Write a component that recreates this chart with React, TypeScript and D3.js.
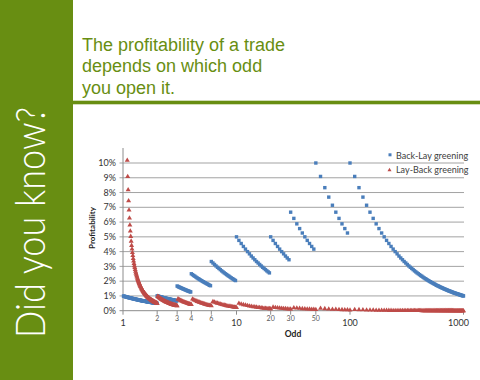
import React from "react";
import * as d3 from "d3";

// Betfair odds ladder (x values)
const odds = [
  1.01,1.02,1.03,1.04,1.05,1.06,1.07,1.08,1.09,1.1,
  1.11,1.12,1.13,1.14,1.15,1.16,1.17,1.18,1.19,1.2,
  1.21,1.22,1.23,1.24,1.25,1.26,1.27,1.28,1.29,1.3,
  1.31,1.32,1.33,1.34,1.35,1.36,1.37,1.38,1.39,1.4,
  1.41,1.42,1.43,1.44,1.45,1.46,1.47,1.48,1.49,1.5,
  1.51,1.52,1.53,1.54,1.55,1.56,1.57,1.58,1.59,1.6,
  1.61,1.62,1.63,1.64,1.65,1.66,1.67,1.68,1.69,1.7,
  1.71,1.72,1.73,1.74,1.75,1.76,1.77,1.78,1.79,1.8,
  1.81,1.82,1.83,1.84,1.85,1.86,1.87,1.88,1.89,1.9,
  1.91,1.92,1.93,1.94,1.95,1.96,1.97,1.98,1.99,2,
  2.02,2.04,2.06,2.08,2.1,2.12,2.14,2.16,2.18,2.2,
  2.22,2.24,2.26,2.28,2.3,2.32,2.34,2.36,2.38,2.4,
  2.42,2.44,2.46,2.48,2.5,2.52,2.54,2.56,2.58,2.6,
  2.62,2.64,2.66,2.68,2.7,2.72,2.74,2.76,2.78,2.8,
  2.82,2.84,2.86,2.88,2.9,2.92,2.94,2.96,2.98,3,
  3.05,3.1,3.15,3.2,3.25,3.3,3.35,3.4,3.45,3.5,
  3.55,3.6,3.65,3.7,3.75,3.8,3.85,3.9,3.95,4,
  4.1,4.2,4.3,4.4,4.5,4.6,4.7,4.8,4.9,5,
  5.1,5.2,5.3,5.4,5.5,5.6,5.7,5.8,5.9,6,
  6.2,6.4,6.6,6.8,7,7.2,7.4,7.6,7.8,8,
  8.2,8.4,8.6,8.8,9,9.2,9.4,9.6,9.8,10,
  10.5,11,11.5,12,12.5,13,13.5,14,14.5,15,
  15.5,16,16.5,17,17.5,18,18.5,19,19.5,20,
  21,22,23,24,25,26,27,28,29,30,
  32,34,36,38,40,42,44,46,48,50,
  55,60,65,70,75,80,85,90,95,100,
  110,120,130,140,150,160,170,180,190,200,
  210,220,230,240,250,260,270,280,290,300,
  310,320,330,340,350,360,370,380,390,400,
  410,420,430,440,450,460,470,480,490,500,
  510,520,530,540,550,560,570,580,590,600,
  610,620,630,640,650,660,670,680,690,700,
  710,720,730,740,750,760,770,780,790,800,
  810,820,830,840,850,860,870,880,890,900,
  910,920,930,940,950,960,970,980,990,1000,
];

// Back-Lay greening profitability (%)
const backLay = [
  0.99,0.98,0.97,0.96,0.95,0.94,0.93,0.93,0.92,0.91,
  0.90,0.89,0.88,0.88,0.87,0.86,0.85,0.85,0.84,0.83,
  0.83,0.82,0.81,0.81,0.80,0.79,0.79,0.78,0.78,0.77,
  0.76,0.76,0.75,0.75,0.74,0.74,0.73,0.72,0.72,0.71,
  0.71,0.70,0.70,0.69,0.69,0.68,0.68,0.68,0.67,0.67,
  0.66,0.66,0.65,0.65,0.65,0.64,0.64,0.63,0.63,0.63,
  0.62,0.62,0.61,0.61,0.61,0.60,0.60,0.60,0.59,0.59,
  0.58,0.58,0.58,0.57,0.57,0.57,0.56,0.56,0.56,0.56,
  0.55,0.55,0.55,0.54,0.54,0.54,0.53,0.53,0.53,0.53,
  0.52,0.52,0.52,0.52,0.51,0.51,0.51,0.51,0.50,1.00,
  0.99,0.98,0.97,0.96,0.95,0.94,0.93,0.93,0.92,0.91,
  0.90,0.89,0.88,0.88,0.87,0.86,0.85,0.85,0.84,0.83,
  0.83,0.82,0.81,0.81,0.80,0.79,0.79,0.78,0.78,0.77,
  0.76,0.76,0.75,0.75,0.74,0.74,0.73,0.72,0.72,0.71,
  0.71,0.70,0.70,0.69,0.69,0.68,0.68,0.68,0.67,1.67,
  1.64,1.61,1.59,1.56,1.54,1.52,1.49,1.47,1.45,1.43,
  1.41,1.39,1.37,1.35,1.33,1.32,1.30,1.28,1.27,2.50,
  2.44,2.38,2.33,2.27,2.22,2.17,2.13,2.08,2.04,2.00,
  1.96,1.92,1.89,1.85,1.82,1.79,1.75,1.72,1.69,3.33,
  3.23,3.13,3.03,2.94,2.86,2.78,2.70,2.63,2.56,2.50,
  2.44,2.38,2.33,2.27,2.22,2.17,2.13,2.08,2.04,5.00,
  4.76,4.55,4.35,4.17,4.00,3.85,3.70,3.57,3.45,3.33,
  3.23,3.13,3.03,2.94,2.86,2.78,2.70,2.63,2.56,5.00,
  4.76,4.55,4.35,4.17,4.00,3.85,3.70,3.57,3.45,6.67,
  6.25,5.88,5.56,5.26,5.00,4.76,4.55,4.35,4.17,10.00,
  9.09,8.33,7.69,7.14,6.67,6.25,5.88,5.56,5.26,10.00,
  9.09,8.33,7.69,7.14,6.67,6.25,5.88,5.56,5.26,5.00,
  4.76,4.55,4.35,4.17,4.00,3.85,3.70,3.57,3.45,3.33,
  3.23,3.13,3.03,2.94,2.86,2.78,2.70,2.63,2.56,2.50,
  2.44,2.38,2.33,2.27,2.22,2.17,2.13,2.08,2.04,2.00,
  1.96,1.92,1.89,1.85,1.82,1.79,1.75,1.72,1.69,1.67,
  1.64,1.61,1.59,1.56,1.54,1.52,1.49,1.47,1.45,1.43,
  1.41,1.39,1.37,1.35,1.33,1.32,1.30,1.28,1.27,1.25,
  1.23,1.22,1.20,1.19,1.18,1.16,1.15,1.14,1.12,1.11,
  1.10,1.09,1.08,1.06,1.05,1.04,1.03,1.02,1.01,1.00,
];

// Lay-Back greening profitability (%)
const layBack = [
  99.0,49.0,32.4,24.0,19.0,15.7,13.35,11.57,10.19,9.09,
  8.19,7.44,6.81,6.27,5.80,5.39,5.03,4.71,4.42,4.17,
  3.94,3.73,3.53,3.36,3.20,3.05,2.92,2.79,2.67,2.56,
  2.46,2.37,2.28,2.19,2.12,2.04,1.97,1.91,1.84,1.79,
  1.73,1.68,1.63,1.58,1.53,1.49,1.45,1.41,1.37,1.33,
  1.30,1.27,1.23,1.20,1.17,1.14,1.12,1.09,1.07,1.04,
  1.02,1.00,0.97,0.95,0.93,0.91,0.89,0.88,0.86,0.84,
  0.82,0.81,0.79,0.78,0.76,0.75,0.73,0.72,0.71,0.69,
  0.68,0.67,0.66,0.65,0.64,0.63,0.61,0.60,0.59,0.58,
  0.58,0.57,0.56,0.55,0.54,0.53,0.52,0.52,0.51,0.50,
  0.97,0.94,0.92,0.89,0.87,0.84,0.82,0.80,0.78,0.76,
  0.74,0.72,0.70,0.69,0.67,0.65,0.64,0.62,0.61,0.60,
  0.58,0.57,0.56,0.55,0.53,0.52,0.51,0.50,0.49,0.48,
  0.47,0.46,0.45,0.44,0.44,0.43,0.42,0.41,0.40,0.40,
  0.39,0.38,0.38,0.37,0.36,0.36,0.35,0.35,0.34,0.33,
  0.80,0.77,0.74,0.71,0.68,0.66,0.64,0.61,0.59,0.57,
  0.55,0.53,0.52,0.50,0.48,0.47,0.46,0.44,0.43,0.42,
  0.79,0.74,0.70,0.67,0.63,0.60,0.58,0.55,0.52,0.50,
  0.48,0.46,0.44,0.42,0.40,0.39,0.37,0.36,0.35,0.33,
  0.62,0.58,0.54,0.51,0.48,0.45,0.42,0.40,0.38,0.36,
  0.34,0.32,0.31,0.29,0.28,0.27,0.25,0.24,0.23,0.22,
  0.50,0.45,0.41,0.38,0.35,0.32,0.30,0.27,0.26,0.24,
  0.22,0.21,0.20,0.18,0.17,0.16,0.15,0.15,0.14,0.13,
  0.24,0.22,0.20,0.18,0.17,0.15,0.14,0.13,0.12,0.11,
  0.20,0.18,0.16,0.14,0.13,0.12,0.11,0.10,0.09,0.08,
  0.17,0.14,0.12,0.10,0.09,0.08,0.07,0.06,0.06,0.05,
  0.083,0.070,0.060,0.051,0.045,0.039,0.035,0.031,0.028,0.025,
  0.023,0.021,0.019,0.017,0.016,0.015,0.014,0.013,0.012,0.011,
  0.010,0.010,0.009,0.009,0.008,0.008,0.007,0.007,0.007,0.006,
  0.006,0.006,0.005,0.005,0.005,0.005,0.005,0.004,0.004,0.004,
  0.004,0.004,0.004,0.003,0.003,0.003,0.003,0.003,0.003,0.003,
  0.003,0.003,0.003,0.002,0.002,0.002,0.002,0.002,0.002,0.002,
  0.002,0.002,0.002,0.002,0.002,0.002,0.002,0.002,0.002,0.002,
  0.002,0.001,0.001,0.001,0.001,0.001,0.001,0.001,0.001,0.001,
  0.001,0.001,0.001,0.001,0.001,0.001,0.001,0.001,0.001,0.001,
];

const yTicks = [0, 1, 2, 3, 4, 5, 6, 7, 8, 9, 10];
const xMajorTicks = [1, 10, 100, 1000];
const xMinorTicks = [2, 3, 4, 6, 20, 30, 50];
const titleLines = ["The profitability of a trade", "depends on which odd", "you open it."];
const seriesNames = ["Back-Lay greening", "Lay-Back greening"];
const sideText = "Did you know?";
const xTitle = "Odd";
const yTitle = "Profitability";

const GREEN = "#688E12";
const BLUE = "#4A7EBB";
const RED = "#BE4B48";
const CHART_FONT = "Lato, 'Open Sans', sans-serif";

export default function App() {
  const x = d3.scaleLog().domain([1, 1000]).range([123, 463.5]);
  const y = d3.scaleLinear().domain([0, 10]).range([310.7, 163]);
  const fmt = (v: number) => `${v}%`;
  const tri = "M0,-2.8L2.5,1.5L-2.5,1.5Z";

  return (
    <svg
      width={480}
      height={380}
      style={{ position: "fixed", left: 0, top: 0, background: "#fff" }}
    >
      {/* left band */}
      <rect x={0} y={0} width={73} height={380} fill={GREEN} />
      <rect x={73} y={100.7} width={407} height={3.6} fill={GREEN} />
      <text
        transform="translate(45,338) rotate(-90)"
        fontFamily="Lato, 'Open Sans', sans-serif"
        fontWeight={300}
        fontSize={42}
        fill="#fff"
        textLength={231}
        lengthAdjust="spacingAndGlyphs"
      >
        {sideText}
      </text>

      {/* title */}
      {titleLines.map((t, i) => (
        <text
          key={t}
          x={82}
          y={50.5 + i * 21.5}
          fontFamily="'Liberation Sans', Arial, sans-serif"
          fontSize={18}
          fill={GREEN}
        >
          {t}
        </text>
      ))}

      {/* gridlines */}
      {yTicks.map((t) => (
        <line
          key={`g${t}`}
          x1={119.5}
          x2={464}
          y1={y(t)}
          y2={y(t)}
          stroke={t === 0 ? "#8c8c8c" : "#a3a3a3"}
          strokeWidth={1}
        />
      ))}
      {/* y axis line */}
      <line x1={123} x2={123} y1={148} y2={y(0)} stroke="#8c8c8c" strokeWidth={1} />

      {/* y labels */}
      {yTicks.map((t) => (
        <text
          key={`yl${t}`}
          x={116}
          y={y(t)}
          dy="0.35em"
          textAnchor="end"
          fontFamily={CHART_FONT}
          fontSize={9}
          fill="#333"
        >
          {fmt(t)}
        </text>
      ))}

      {/* x ticks & labels */}
      {[...xMajorTicks, ...xMinorTicks].map((t) => (
        <line
          key={`xt${t}`}
          x1={x(t)}
          x2={x(t)}
          y1={y(0)}
          y2={y(0) + 4}
          stroke="#8c8c8c"
          strokeWidth={1}
        />
      ))}
      {xMajorTicks.map((t) => (
        <text
          key={`xl${t}`}
          x={t === 1000 ? x(t) - 5 : x(t)}
          y={326}
          textAnchor="middle"
          fontFamily={CHART_FONT}
          fontSize={9}
          fill="#333"
        >
          {t}
        </text>
      ))}
      {xMinorTicks.map((t) => (
        <text
          key={`xm${t}`}
          x={x(t)}
          y={320.8}
          textAnchor="middle"
          fontFamily={CHART_FONT}
          fontSize={7}
          fill="#595959"
        >
          {t}
        </text>
      ))}

      {/* axis titles */}
      <text
        x={293}
        y={337}
        textAnchor="middle"
        fontFamily={CHART_FONT}
        fontWeight="bold"
        fontSize={8.5}
        fill="#222"
      >
        {xTitle}
      </text>
      <text
        transform="translate(94.5,228) rotate(-90)"
        textAnchor="middle"
        fontFamily={CHART_FONT}
        fontWeight="bold"
        fontSize={8}
        fill="#222"
      >
        {yTitle}
      </text>

      {/* Back-Lay series */}
      <g fill={BLUE}>
        {odds.map((o, i) =>
          backLay[i] <= 10.3 ? (
            <rect key={`b${i}`} x={x(o) - 1.7} y={y(backLay[i]) - 1.7} width={3.4} height={3.4} />
          ) : null
        )}
      </g>
      {/* Lay-Back series */}
      <g fill={RED}>
        {odds.map((o, i) =>
          layBack[i] <= 10.3 ? (
            <path key={`r${i}`} d={tri} transform={`translate(${x(o)},${y(layBack[i])})`} />
          ) : null
        )}
      </g>

      {/* legend */}
      <rect x={388.5} y={153.3} width={3} height={3} fill={BLUE} />
      <text x={396} y={158.5} fontFamily={CHART_FONT} fontSize={9} fill="#404040">
        {seriesNames[0]}
      </text>
      <path d={tri} transform="translate(389.5,170) scale(0.8)" fill={RED} />
      <text x={396} y={172.8} fontFamily={CHART_FONT} fontSize={9} fill="#404040">
        {seriesNames[1]}
      </text>
    </svg>
  );
}
